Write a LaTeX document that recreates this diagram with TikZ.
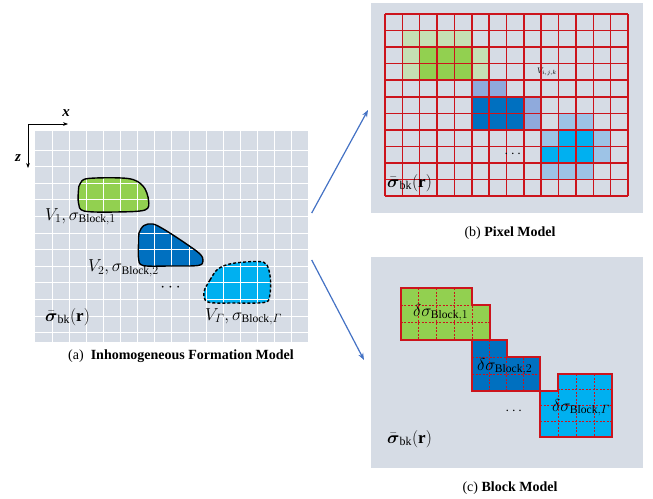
\documentclass[tikz,border=0pt]{standalone}
\usepackage{amsmath,amssymb}
\usepackage{fontspec}
\setmainfont{Liberation Serif}
\usetikzlibrary{arrows.meta}

\definecolor{panelbg}{RGB}{214,220,229}
\definecolor{blockgreen}{RGB}{146,208,80}
\definecolor{palegreen}{RGB}{197,224,180}
\definecolor{blockblue}{RGB}{0,112,192}
\definecolor{paleblue}{RGB}{143,170,220}
\definecolor{blockcyan}{RGB}{0,176,240}
\definecolor{palecyan}{RGB}{157,195,230}
\definecolor{gridred}{RGB}{204,20,28}
\definecolor{linkblue}{RGB}{68,114,196}

\newcommand{\sigbk}{$\bar{\boldsymbol{\sigma}}_{\mathrm{bk}}(\mathbf{r})$}
% pixel cell: column, row, colour
\newcommand{\pixcell}[3]{\fill[#3] ({385+#1*17.36},{14+#2*16.55}) rectangle ++(17.36,16.55);}

\tikzset{
  axisarrow/.style={-{Stealth[length=5pt]}, line width=0.7pt},
  gridwhite/.style={white, line width=0.8pt},
  blobline/.style={line width=1.4pt},
  pixline/.style={gridred, line width=1.5pt},
  blockline/.style={gridred, line width=1.7pt},
  blockgrid/.style={gridred, line width=0.6pt, dash pattern=on 2pt off 1.5pt},
  link/.style={linkblue, line width=1.2pt, -{Stealth[length=7pt]}},
  caption/.style={font=\fontsize{14}{16}\selectfont, inner sep=0pt},
  mathlabel/.style={font=\fontsize{16.5}{18}\selectfont, inner sep=0pt, anchor=base west},
}

\begin{document}
\begin{tikzpicture}[x=1pt,y=-1pt]
  \useasboundingbox (0,0) rectangle (653,498);

  % ---------- (a) inhomogeneous formation ----------
  \fill[panelbg] (35,131) rectangle (308,342);

  \def\blobone{plot[smooth cycle, tension=0.55] coordinates {(80,184) (88,178.5) (128,178.5) (143,186) (148.5,200) (145,210) (115,212) (84,211) (78.5,203) (78.5,190)}}
  \def\blobtwo{plot[smooth cycle, tension=0.55] coordinates {(139,233) (144,225.5) (153,224) (165,230) (185,243) (200,254) (203,261) (198,265.5) (170,266) (143,265.5) (138.5,258) (138.5,243)}}
  \def\blobgam{plot[smooth cycle, tension=0.55] coordinates {(204,292) (210,280) (218,269) (232,263.5) (258,261.5) (267,265) (270.5,280) (269.5,297) (264,302.5) (235,303) (208,302)}}

  \fill[blockgreen] \blobone;
  \fill[blockblue] \blobtwo;
  \fill[blockcyan] \blobgam;

  % white mesh over the whole panel
  \foreach \k in {1,...,15}
    \draw[gridwhite] ({35+\k*17.1},131) -- ({35+\k*17.1},342);
  \foreach \k in {1,...,12}
    \draw[gridwhite] (35,{133.4+\k*16.6}) -- (308,{133.4+\k*16.6});

  \draw[blobline] \blobone;
  \draw[blobline] \blobtwo;
  \draw[blobline, dash pattern=on 3pt off 2pt] \blobgam;

  % axes
  \coordinate (orig) at (28,124);
  \coordinate (xend) at (68,124);
  \coordinate (zend) at (28,168);
  \draw[axisarrow] (orig) -- (xend);
  \draw[axisarrow] (orig) -- (zend);
  \node[font=\fontsize{15}{16}\selectfont\bfseries\itshape] (xlab) at (66,113) {x};
  \node[font=\fontsize{15}{16}\selectfont\bfseries\itshape] (zlab) at (18,158) {z};

  \node[mathlabel] (lblOne) at (45,220) {$V_1,\sigma_{\mathrm{Block},1}$};
  \node[mathlabel] (lblTwo) at (88,271.5) {$V_2,\sigma_{\mathrm{Block},2}$};
  \node[mathlabel] (lblGam) at (205,320) {$V_{\varGamma},\sigma_{\mathrm{Block},\varGamma}$};
  \node[font=\fontsize{16}{18}\selectfont] (dotsA) at (172,288) {$\cdots$};
  \node[mathlabel, font=\fontsize{17}{19}\selectfont] (bkA) at (45,321) {\sigbk};

  \node[caption] (capA) at (181,356) {(a)~~\textbf{Inhomogeneous Formation Model}};

  % ---------- (b) pixel model ----------
  \fill[panelbg] (371,3) rectangle (643,213);
  \foreach \c/\r in {1/1,2/1,3/1,4/1,1/2,5/2,1/3,5/3} {\pixcell{\c}{\r}{palegreen}}
  \foreach \c/\r in {2/2,3/2,4/2,2/3,3/3,4/3} {\pixcell{\c}{\r}{blockgreen}}
  \foreach \c/\r in {5/4,6/4,8/5,8/6} {\pixcell{\c}{\r}{paleblue}}
  \foreach \c/\r in {5/5,6/5,7/5,5/6,6/6,7/6} {\pixcell{\c}{\r}{blockblue}}
  \foreach \c/\r in {10/6,11/6,9/7,12/7,12/8,9/9,10/9,11/9} {\pixcell{\c}{\r}{palecyan}}
  \foreach \c/\r in {10/7,11/7,9/8,10/8,11/8} {\pixcell{\c}{\r}{blockcyan}}
  \foreach \k in {0,...,14}
    \draw[pixline] ({385+\k*17.36},14) -- ({385+\k*17.36},196);
  \foreach \k in {0,...,11}
    \draw[pixline] (385,{14+\k*16.55}) -- (628,{14+\k*16.55});

  \node[font=\fontsize{8}{9}\selectfont, inner sep=0pt] (pixlab) at (547,72) {$V_{i,j,k}$};
  \node[font=\fontsize{14}{16}\selectfont] (dotsB) at (514,154) {$\cdots$};
  \node[mathlabel, font=\fontsize{17}{19}\selectfont] (bkB) at (387,187) {\sigbk};

  \node[caption] (capB) at (510,233) {(b) \textbf{Pixel Model}};

  % ---------- (c) block model ----------
  \fill[panelbg] (371,257) rectangle (643,468);

  \def\blkone{(400.7,288) -- (472.1,288) -- (472.1,305.3) -- (490,305.3) -- (490,340) -- (400.7,340) -- cycle}
  \def\blktwo{(472,340) -- (507,340) -- (507,357) -- (540,357) -- (540,390.7) -- (472,390.7) -- cycle}
  \def\blkgam{(558,374) -- (612,374) -- (612,436.7) -- (540,436.7) -- (540,390.7) -- (558,390.7) -- cycle}

  \fill[blockgreen] \blkone;
  \fill[blockblue] \blktwo;
  \fill[blockcyan] \blkgam;

  \begin{scope}
    \clip \blkone;
    \foreach \k in {1,...,4} \draw[blockgrid] ({400.7+\k*17.86},288) -- ({400.7+\k*17.86},340);
    \foreach \k in {1,2} \draw[blockgrid] (400.7,{288+\k*17.33}) -- (490,{288+\k*17.33});
  \end{scope}
  \begin{scope}
    \clip \blktwo;
    \foreach \k in {1,...,3} \draw[blockgrid] ({472+\k*17},340) -- ({472+\k*17},390.7);
    \foreach \k in {1,2} \draw[blockgrid] (472,{340+\k*16.9}) -- (540,{340+\k*16.9});
  \end{scope}
  \begin{scope}
    \clip \blkgam;
    \foreach \k in {1,...,3} \draw[blockgrid] ({540+\k*18},374) -- ({540+\k*18},436.7);
    \foreach \k in {1,...,3} \draw[blockgrid] (540,{374+\k*15.7}) -- (612,{374+\k*15.7});
  \end{scope}

  \draw[blockline] \blkone;
  \draw[blockline] \blktwo;
  \draw[blockline] \blkgam;

  \node[mathlabel] (dsOne) at (413,316) {$\delta\sigma_{\mathrm{Block},1}$};
  \node[mathlabel] (dsTwo) at (477,370) {$\delta\sigma_{\mathrm{Block},2}$};
  \node[mathlabel] (dsGam) at (552,411) {$\delta\sigma_{\mathrm{Block},\varGamma}$};
  \node[font=\fontsize{14}{16}\selectfont] (dotsC) at (515,411) {$\cdots$};
  \node[mathlabel, font=\fontsize{17}{19}\selectfont] (bkC) at (387,443) {\sigbk};

  \node[caption] (capC) at (510,488) {(c) \textbf{Block Model}};

  % ---------- links ----------
  \coordinate (linkA) at (311.7,213);
  \coordinate (linkB) at (311.7,260);
  \coordinate (pixIn) at (368,110);
  \coordinate (blkIn) at (364,360);
  \draw[link] (linkA) -- (pixIn);
  \draw[link] (linkB) -- (blkIn);
\end{tikzpicture}
\end{document}
